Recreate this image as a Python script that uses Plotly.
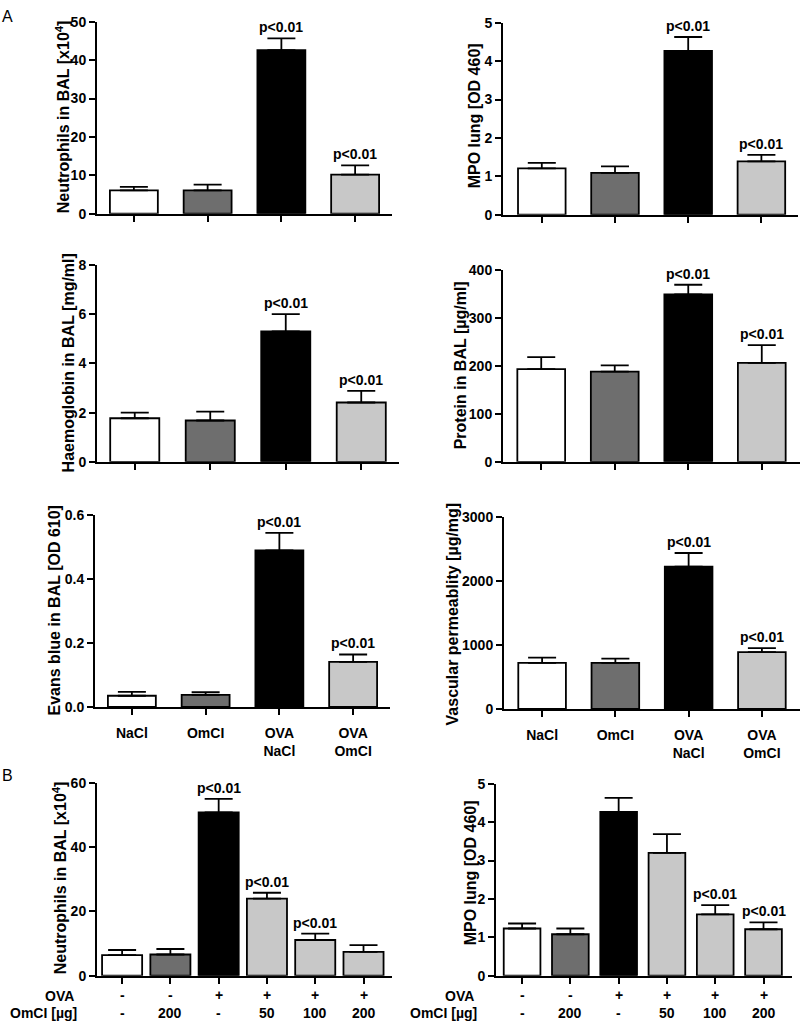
import plotly.graph_objects as go
from plotly.subplots import make_subplots

# ---- data ----
groups_a = ["NaCl", "OmCI", "OVA<br>NaCl", "OVA<br>OmCI"]
colors_a = ["#ffffff", "#6e6e6e", "#000000", "#c8c8c8"]
p_a = ["", "", "p<0.01", "p<0.01"]

neutro_a = [6.1, 6.1, 42.6, 10.2]
neutro_a_err = [0.9, 1.5, 3.1, 2.4]
mpo_a = [1.21, 1.09, 4.27, 1.39]
mpo_a_err = [0.14, 0.17, 0.36, 0.17]
haemo_a = [1.77, 1.68, 5.30, 2.41]
haemo_a_err = [0.23, 0.36, 0.70, 0.47]
protein_a = [193, 188, 349, 206]
protein_a_err = [25, 13, 20, 37]
evans_a = [0.035, 0.038, 0.489, 0.141]
evans_a_err = [0.012, 0.008, 0.055, 0.023]
vasc_a = [720, 720, 2223, 889]
vasc_a_err = [82, 67, 214, 61]

ova_row = ["-", "-", "+", "+", "+", "+"]
omci_row = ["-", "200", "-", "50", "100", "200"]
colors_b = ["#ffffff", "#6e6e6e", "#000000", "#c8c8c8", "#c8c8c8", "#c8c8c8"]

neutro_b = [6.4, 6.6, 50.8, 24.0, 11.1, 7.4]
neutro_b_err = [1.6, 1.7, 4.2, 1.8, 2.0, 2.1]
p_neutro_b = ["", "", "p<0.01", "p<0.01", "p<0.01", ""]
mpo_b = [1.23, 1.08, 4.27, 3.20, 1.60, 1.21]
mpo_b_err = [0.13, 0.15, 0.36, 0.49, 0.24, 0.18]
p_mpo_b = ["", "", "", "", "p<0.01", "p<0.01"]

groups_b = [f"{o}|{m}" for o, m in zip(ova_row, omci_row)]

W, H = 800, 1029
FONT = "Liberation Sans, Arial, sans-serif"


def xdom(left, right):
    return [left / W, right / W]


def ydom(top, bottom):
    return [1 - bottom / H, 1 - top / H]


panels = [
    # (row, col, cats, vals, errs, colors, pvals, title, ymax, dtick, fmt, labels, barwidth,
    #  xrange, x px, y px, title centre px)
    (1, 1, groups_a, neutro_a, neutro_a_err, colors_a, p_a,
     "Neutrophils in BAL [x10<sup>4</sup>]", 50, 10, None, False, 0.65,
     (-0.5, 3.5), (97, 392), (14, 209), (63, 111)),
    (1, 2, groups_a, mpo_a, mpo_a_err, colors_a, p_a,
     "MPO lung [OD 460]", 5, 1, None, False, 0.65,
     (-0.53, 3.5), (503, 798), (15, 210), (474, 110)),
    (2, 1, groups_a, haemo_a, haemo_a_err, colors_a, p_a,
     "Haemoglobin in BAL [mg/ml]", 8, 2, None, False, 0.65,
     (-0.5, 3.5), (97, 399), (261, 461), (68, 361)),
    (2, 2, groups_a, protein_a, protein_a_err, colors_a, p_a,
     "Protein in BAL [µg/ml]", 400, 100, None, False, 0.65,
     (-0.52, 3.52), (503, 800), (266, 461), (460, 363)),
    (3, 1, groups_a, evans_a, evans_a_err, colors_a, p_a,
     "Evans blue in BAL [OD 610]", 0.6, 0.2, ".1f", True, 0.65,
     (-0.5, 3.5), (95, 390), (515, 710), (54, 612)),
    (3, 2, groups_a, vasc_a, vasc_a_err, colors_a, p_a,
     "Vascular permeablity [µg/mg]", 3000, 1000, None, True, 0.65,
     (-0.52, 3.52), (504, 800), (517, 712), (452, 615)),
    (4, 1, groups_b, neutro_b, neutro_b_err, colors_b, p_neutro_b,
     "Neutrophils in BAL [x10<sup>4</sup>]", 60, 20, None, False, 0.83,
     (-0.52, 5.59), (97, 392), (787, 983), (60, 884)),
    (4, 2, groups_b, mpo_b, mpo_b_err, colors_b, p_mpo_b,
     "MPO lung [OD 460]", 5, 1, None, False, 0.76,
     (-0.54, 5.59), (496, 792), (788, 983), (470, 879)),
]

fig = make_subplots(rows=4, cols=2)

for i, (r, c, cats, vals, errs, cols, pv, title, ymax, dtick, fmt, labels, bw,
        xr, xpx, ypx, tpos) in enumerate(panels):
    n = i + 1
    fig.add_trace(go.Bar(
        x=cats, y=vals, width=bw,
        marker=dict(color=cols, line=dict(color="black", width=1.8)),
        error_y=dict(type="data", symmetric=False, array=errs, arrayminus=[0] * len(errs),
                     color="black", thickness=1.8, width=14),
        showlegend=False,
    ), row=r, col=c)

    fig.update_xaxes(
        domain=xdom(*xpx), range=list(xr),
        showline=True, linecolor="black", linewidth=2,
        ticks="outside", ticklen=6, tickwidth=1.8, tickcolor="black",
        showticklabels=labels, ticklabelstandoff=6,
        tickfont=dict(size=14),
        showgrid=False, zeroline=False,
        row=r, col=c,
    )
    fig.update_yaxes(
        domain=ydom(*ypx), range=[0, ymax], dtick=dtick, tickformat=fmt,
        showline=True, linecolor="black", linewidth=2,
        ticks="outside", ticklen=6, tickwidth=1.8, tickcolor="black",
        tickfont=dict(size=14),
        showgrid=False, zeroline=False,
        row=r, col=c,
    )

    # y-axis title as rotated text
    fig.add_annotation(x=tpos[0] / W, y=1 - tpos[1] / H, xref="paper", yref="paper",
                       text=title, textangle=-90, showarrow=False,
                       xanchor="center", yanchor="middle", font=dict(size=16))

    xref = "x" if n == 1 else f"x{n}"
    yref = "y" if n == 1 else f"y{n}"
    for cat, v, e, p in zip(cats, vals, errs, pv):
        if p:
            fig.add_annotation(x=cat, y=v + e, xref=xref, yref=yref, text=p,
                               showarrow=False, yanchor="bottom", yshift=1,
                               font=dict(size=14))

    # treatment rows under panel B
    if r == 4:
        for cat, o, m in zip(cats, ova_row, omci_row):
            fig.add_annotation(x=cat, y=1 - 1003 / H, xref=xref, yref="paper", text=o,
                               showarrow=False, yanchor="middle", font=dict(size=14))
            fig.add_annotation(x=cat, y=1 - 1021 / H, xref=xref, yref="paper", text=m,
                               showarrow=False, yanchor="middle", font=dict(size=14))

# row labels for panel B
for xr in (76, 476):
    fig.add_annotation(x=xr / W, y=1 - 1004 / H, xref="paper", yref="paper", text="OVA",
                       showarrow=False, xanchor="right", yanchor="middle", font=dict(size=14))
    fig.add_annotation(x=(xr + 3) / W, y=1 - 1021 / H, xref="paper", yref="paper",
                       text="OmCI [µg]", showarrow=False, xanchor="right", yanchor="middle",
                       font=dict(size=14))

# panel letters
fig.add_annotation(x=7 / W, y=1 - 9 / H, xref="paper", yref="paper", text="A", showarrow=False,
                   xanchor="center", yanchor="middle", font=dict(size=16, weight="normal"))
fig.add_annotation(x=7 / W, y=1 - 780 / H, xref="paper", yref="paper", text="B", showarrow=False,
                   xanchor="center", yanchor="middle", font=dict(size=16, weight="normal"))

fig.update_layout(
    margin=dict(l=0, r=0, t=0, b=0),
    paper_bgcolor="white", plot_bgcolor="white",
    font=dict(family=FONT, size=14, color="black", weight="bold"),
)

# pin the plot div to the page corner so the body margin does not push it off the window
fig.write_html("out.html", config={"displayModeBar": False},
               default_width=f"{W}px",
               default_height=f"{H}px; position:absolute; top:0; left:0")
